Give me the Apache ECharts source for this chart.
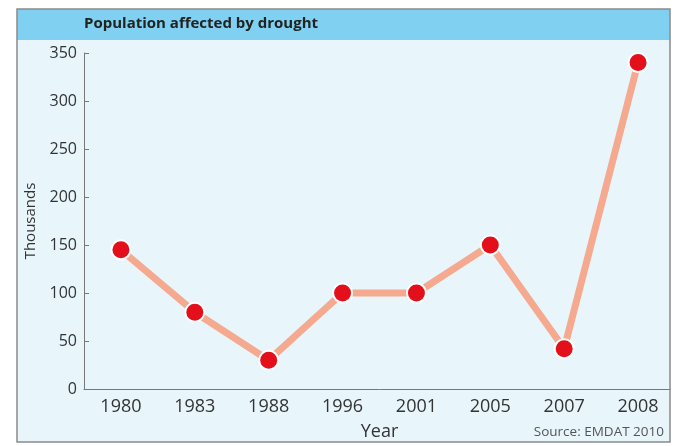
<!DOCTYPE html>
<html>
<head>
<meta charset="utf-8">
<script src="https://cdn.jsdelivr.net/npm/echarts@6/dist/echarts.min.js"></script>
<style>html,body{margin:0;padding:0;background:#fff}#c{width:675px;height:446px}</style>
</head>
<body>
<div id="c"></div>
<script>
const years = ['1980','1983','1988','1996','2001','2005','2007','2008'];
const affected = [145, 80, 30, 100, 100, 150, 42, 340];
const yTicks = [0, 50, 100, 150, 200, 250, 300, 350];
const titleText = 'Population affected by drought';
const sourceText = 'Source: EMDAT 2010';

const FONT = '"Open Sans", "Noto Sans", sans-serif';
const chart = echarts.init(document.getElementById('c'));
chart.setOption({
  backgroundColor: '#ffffff',
  animation: false,
  textStyle: { fontFamily: FONT },
  title: {
    text: titleText,
    left: 79, top: 11,
    textStyle: { fontFamily: FONT, fontSize: 15, fontWeight: 'bold', color: '#222' }
  },
  graphic: [
    { type: 'rect', z: -10, shape: { x: 17, y: 9, width: 653, height: 433 },
      style: { fill: '#e8f6fc', stroke: null } },
    { type: 'rect', z: -9, shape: { x: 17, y: 9, width: 653, height: 31 },
      style: { fill: '#7fd0f1', stroke: null } },
    { type: 'rect', z: 100, shape: { x: 670.5, y: 0, width: 10, height: 446 },
      style: { fill: '#ffffff', stroke: null } },
    { type: 'rect', z: 101, shape: { x: 17, y: 9, width: 653, height: 433 },
      style: { fill: null, stroke: '#8a8a8a', lineWidth: 1.5 } },
    { type: 'text', z: 50, right: 11, top: 425,
      style: { text: sourceText, fontSize: 13.5, fontFamily: FONT, fill: '#555' } }
  ],
  grid: { left: 84, top: 53, width: 592, bottom: 55, containLabel: false },
  xAxis: {
    type: 'category',
    data: years,
    boundaryGap: true,
    name: 'Year',
    nameLocation: 'middle',
    nameGap: 34,
    nameTextStyle: { fontSize: 18, color: '#333', fontFamily: FONT },
    axisLine: { lineStyle: { color: '#777', width: 1 } },
    axisTick: { inside: true, length: 4, lineStyle: { color: '#777' } },
    axisLabel: { fontSize: 18, color: '#333', margin: 9, fontFamily: FONT, interval: 0 }
  },
  yAxis: {
    type: 'value',
    min: 0, max: 350, interval: 50,
    name: 'Thousands',
    nameLocation: 'middle',
    nameGap: 44,
    nameTextStyle: { fontSize: 15, color: '#333', fontFamily: FONT },
    axisLine: { show: true, lineStyle: { color: '#777', width: 1 } },
    axisTick: { show: true, inside: true, length: 5, lineStyle: { color: '#777' } },
    splitLine: { show: false },
    axisLabel: { fontSize: 16, color: '#333', margin: 7, fontFamily: FONT,
      formatter: v => yTicks.includes(v) ? String(v) : '' }
  },
  series: [{
    type: 'line',
    data: affected,
    symbol: 'circle',
    symbolSize: 19,
    lineStyle: { color: '#f5a98f', width: 7 },
    itemStyle: { color: '#e3101b', borderColor: '#ffffff', borderWidth: 2 },
    z: 5
  }]
});
</script>
</body>
</html>
